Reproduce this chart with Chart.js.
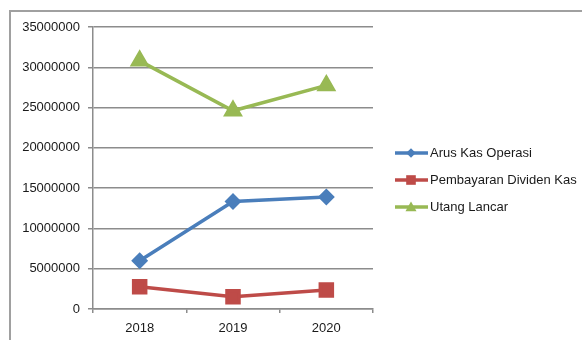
<!DOCTYPE html>
<html>
<head>
<meta charset="utf-8">
<script src="https://cdn.jsdelivr.net/npm/chart.js@4.4.1/dist/chart.umd.min.js"></script>
<style>
  html, body { margin: 0; padding: 0; background: #fff; }
  #wrap { width: 582px; height: 340px; }
</style>
</head>
<body>
<div id="wrap"><canvas id="chart" width="582" height="340"></canvas></div>
<script>
// Data
const years = ['2018', '2019', '2020'];
const arusKasOperasi = [6000000, 13350000, 13900000];
const pembayaranDividenKas = [2750000, 1520000, 2350000];
const utangLancar = [30800000, 24600000, 27750000];
const yTicks = [0, 5000000, 10000000, 15000000, 20000000, 25000000, 30000000, 35000000];

const FONT = '"Liberation Sans", Arial, sans-serif';
const GRID = '#8c8c8c';

// Outer frame (left + top edges only)
const framePlugin = {
  id: 'frame',
  beforeDraw(chart) {
    const c = chart.ctx;
    c.save();
    c.strokeStyle = '#a0a0a0';
    c.lineWidth = 2;
    c.beginPath();
    c.moveTo(10, 340);
    c.lineTo(10, 11);
    c.lineTo(582, 11);
    c.stroke();
    c.restore();
  }
};

// Legend with line + marker swatches on the right
const sideLegend = {
  id: 'sideLegend',
  afterDraw(chart) {
    const c = chart.ctx;
    const rows = [153, 180, 207];
    c.save();
    chart.data.datasets.forEach((ds, i) => {
      const y = rows[i];
      c.strokeStyle = ds.borderColor;
      c.lineWidth = 3.5;
      c.beginPath();
      c.moveTo(395, y);
      c.lineTo(428, y);
      c.stroke();
      c.fillStyle = ds.backgroundColor;
      Chart.helpers.drawPoint(c, {
        pointStyle: ds.pointStyle,
        radius: ds.pointRadius * 0.8,
        rotation: 0,
        borderWidth: 0
      }, 411, y + (ds.pointStyle === 'triangle' ? 1 : 0));
      c.fillStyle = '#1a1a1a';
      c.font = '13px ' + FONT;
      c.textBaseline = 'middle';
      c.fillText(ds.label, 430, y);
    });
    c.restore();
  }
};

new Chart(document.getElementById('chart'), {
  type: 'line',
  data: {
    labels: years,
    datasets: [
      {
        label: 'Arus Kas Operasi',
        data: arusKasOperasi,
        borderColor: '#4a7ebb',
        backgroundColor: '#4a7ebb',
        pointStyle: 'rectRot',
        pointRadius: 6,
        borderWidth: 3.5
      },
      {
        label: 'Pembayaran Dividen Kas',
        data: pembayaranDividenKas,
        borderColor: '#be4b48',
        backgroundColor: '#be4b48',
        pointStyle: 'rect',
        pointRadius: 8.5,
        borderWidth: 3.5
      },
      {
        label: 'Utang Lancar',
        data: utangLancar,
        borderColor: '#98b954',
        backgroundColor: '#98b954',
        pointStyle: 'triangle',
        pointRadius: 8,
        borderWidth: 3.5
      }
    ]
  },
  options: {
    responsive: false,
    animation: false,
    layout: { padding: { left: 12, top: 27, right: 209, bottom: 0 } },
    plugins: {
      legend: { display: false },
      tooltip: { enabled: false }
    },
    elements: {
      line: { tension: 0 },
      point: { borderWidth: 0 }
    },
    scales: {
      x: {
        offset: true,
        grid: {
          offset: true,
          drawOnChartArea: false,
          drawTicks: true,
          tickLength: 4,
          color: GRID,
          lineWidth: 1.5
        },
        border: { color: GRID, width: 1.5 },
        ticks: { color: '#1a1a1a', font: { family: FONT, size: 13 }, padding: 8 },
        afterFit(scale) { scale.height = 31; }
      },
      y: {
        min: 0,
        max: 35000000,
        afterBuildTicks(scale) { scale.ticks = yTicks.map(v => ({ value: v })); },
        grid: {
          color: GRID,
          lineWidth: 1.5,
          drawTicks: true,
          tickLength: 5
        },
        border: { color: GRID, width: 1.5 },
        ticks: {
          color: '#1a1a1a',
          font: { family: FONT, size: 13 },
          padding: 8,
          callback: v => String(v)
        },
        afterFit(scale) { scale.width = 81; }
      }
    }
  },
  plugins: [framePlugin, sideLegend]
});
</script>
</body>
</html>
